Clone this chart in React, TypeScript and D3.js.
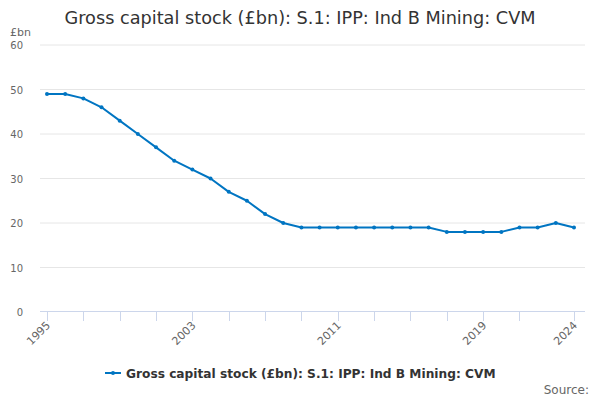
import React, { useRef, useEffect } from 'react';
import * as d3 from 'd3';

const WIDTH = 600;
const HEIGHT = 400;
const TITLE = 'Gross capital stock (£bn): S.1: IPP: Ind B Mining: CVM';
const SERIES_NAME = 'Gross capital stock (£bn): S.1: IPP: Ind B Mining: CVM';

const years = [
  1995, 1996, 1997, 1998, 1999, 2000, 2001, 2002, 2003, 2004,
  2005, 2006, 2007, 2008, 2009, 2010, 2011, 2012, 2013, 2014,
  2015, 2016, 2017, 2018, 2019, 2020, 2021, 2022, 2023, 2024,
];
const values = [
  49, 49, 48, 46, 43, 40, 37, 34, 32, 30,
  27, 25, 22, 20, 19, 19, 19, 19, 19, 19,
  19, 19, 18, 18, 18, 18, 19, 19, 20, 19,
];
const yTicks = [0, 10, 20, 30, 40, 50, 60];
const xTickYears = [1995, 1997, 1999, 2001, 2003, 2005, 2007, 2009, 2011, 2013, 2015, 2017, 2019, 2021, 2024];
const xLabelYears = [1995, 2003, 2011, 2019, 2024];

const LINE_COLOR = '#0075c2';
const FONT = '"DejaVu Sans", Verdana, sans-serif';

export default function App() {
  const svgRef = useRef<SVGSVGElement>(null);

  useEffect(() => {
    if (!svgRef.current) return;
    const svg = d3.select(svgRef.current);
    svg.selectAll('*').remove();

    const plotLeft = 40;
    const plotRight = 585;
    const x = d3.scaleLinear().domain([1995, 2024]).range([47, 574]);
    const y = d3.scaleLinear().domain([0, 60]).range([312, 45]);

    // title
    svg.append('text')
      .attr('x', WIDTH / 2)
      .attr('y', 24)
      .attr('text-anchor', 'middle')
      .attr('fill', '#333333')
      .attr('font-size', '17.7px')
      .attr('font-family', FONT)
      .text(TITLE);

    // unit label
    svg.append('text')
      .attr('x', 10)
      .attr('y', 36)
      .attr('fill', '#666666')
      .attr('font-size', '11px')
      .attr('font-family', FONT)
      .text('£bn');

    // gridlines + y labels
    yTicks.forEach((v) => {
      if (v !== 0) {
        svg.append('line')
          .attr('x1', plotLeft)
          .attr('x2', plotRight)
          .attr('y1', y(v))
          .attr('y2', y(v))
          .attr('stroke', '#e6e6e6')
          .attr('stroke-width', 1);
      }
      svg.append('text')
        .attr('x', 23)
        .attr('y', y(v) + 4)
        .attr('text-anchor', 'end')
        .attr('fill', '#666666')
        .attr('font-size', '10px')
        .attr('font-family', FONT)
        .text(String(v));
    });

    // x axis line and ticks
    svg.append('line')
      .attr('x1', plotLeft)
      .attr('x2', plotRight)
      .attr('y1', 311.5)
      .attr('y2', 311.5)
      .attr('stroke', '#ccd6eb')
      .attr('stroke-width', 1);

    xTickYears.forEach((yr) => {
      svg.append('line')
        .attr('x1', Math.round(x(yr)) + 0.5)
        .attr('x2', Math.round(x(yr)) + 0.5)
        .attr('y1', 311)
        .attr('y2', 321)
        .attr('stroke', '#ccd6eb')
        .attr('stroke-width', 1);
    });

    xLabelYears.forEach((yr) => {
      svg.append('text')
        .attr('transform', `translate(${x(yr) + 4}, ${326}) rotate(-45)`)
        .attr('text-anchor', 'end')
        .attr('fill', '#666666')
        .attr('font-size', '11px')
        .attr('font-family', FONT)
        .text(String(yr));
    });

    // series line
    const line = d3.line<number>()
      .x((_, i) => x(years[i]))
      .y((d) => y(d));
    svg.append('path')
      .attr('d', line(values) ?? '')
      .attr('fill', 'none')
      .attr('stroke', LINE_COLOR)
      .attr('stroke-width', 2)
      .attr('stroke-linejoin', 'round');

    svg.selectAll('circle.pt')
      .data(values)
      .enter()
      .append('circle')
      .attr('class', 'pt')
      .attr('cx', (_, i) => x(years[i]))
      .attr('cy', (d) => y(d))
      .attr('r', 2)
      .attr('fill', LINE_COLOR);

    // legend
    const legend = svg.append('g').attr('transform', 'translate(0, 373)');
    legend.append('line')
      .attr('x1', 105)
      .attr('x2', 121)
      .attr('y1', 0)
      .attr('y2', 0)
      .attr('stroke', LINE_COLOR)
      .attr('stroke-width', 2);
    legend.append('circle')
      .attr('cx', 113)
      .attr('cy', 0)
      .attr('r', 2)
      .attr('fill', LINE_COLOR);
    legend.append('text')
      .attr('x', 126)
      .attr('y', 5)
      .attr('fill', '#333333')
      .attr('font-size', '12.2px')
      .attr('font-weight', 'bold')
      .attr('font-family', FONT)
      .text(SERIES_NAME);

    // source
    svg.append('text')
      .attr('x', 589)
      .attr('y', 394)
      .attr('text-anchor', 'end')
      .attr('fill', '#666666')
      .attr('font-size', '12px')
      .attr('font-family', FONT)
      .text('Source:');
  }, []);

  return (
    <svg
      ref={svgRef}
      width={WIDTH}
      height={HEIGHT}
      viewBox={`0 0 ${WIDTH} ${HEIGHT}`}
      style={{ position: 'absolute', left: 0, top: 0, background: '#ffffff' }}
    />
  );
}
